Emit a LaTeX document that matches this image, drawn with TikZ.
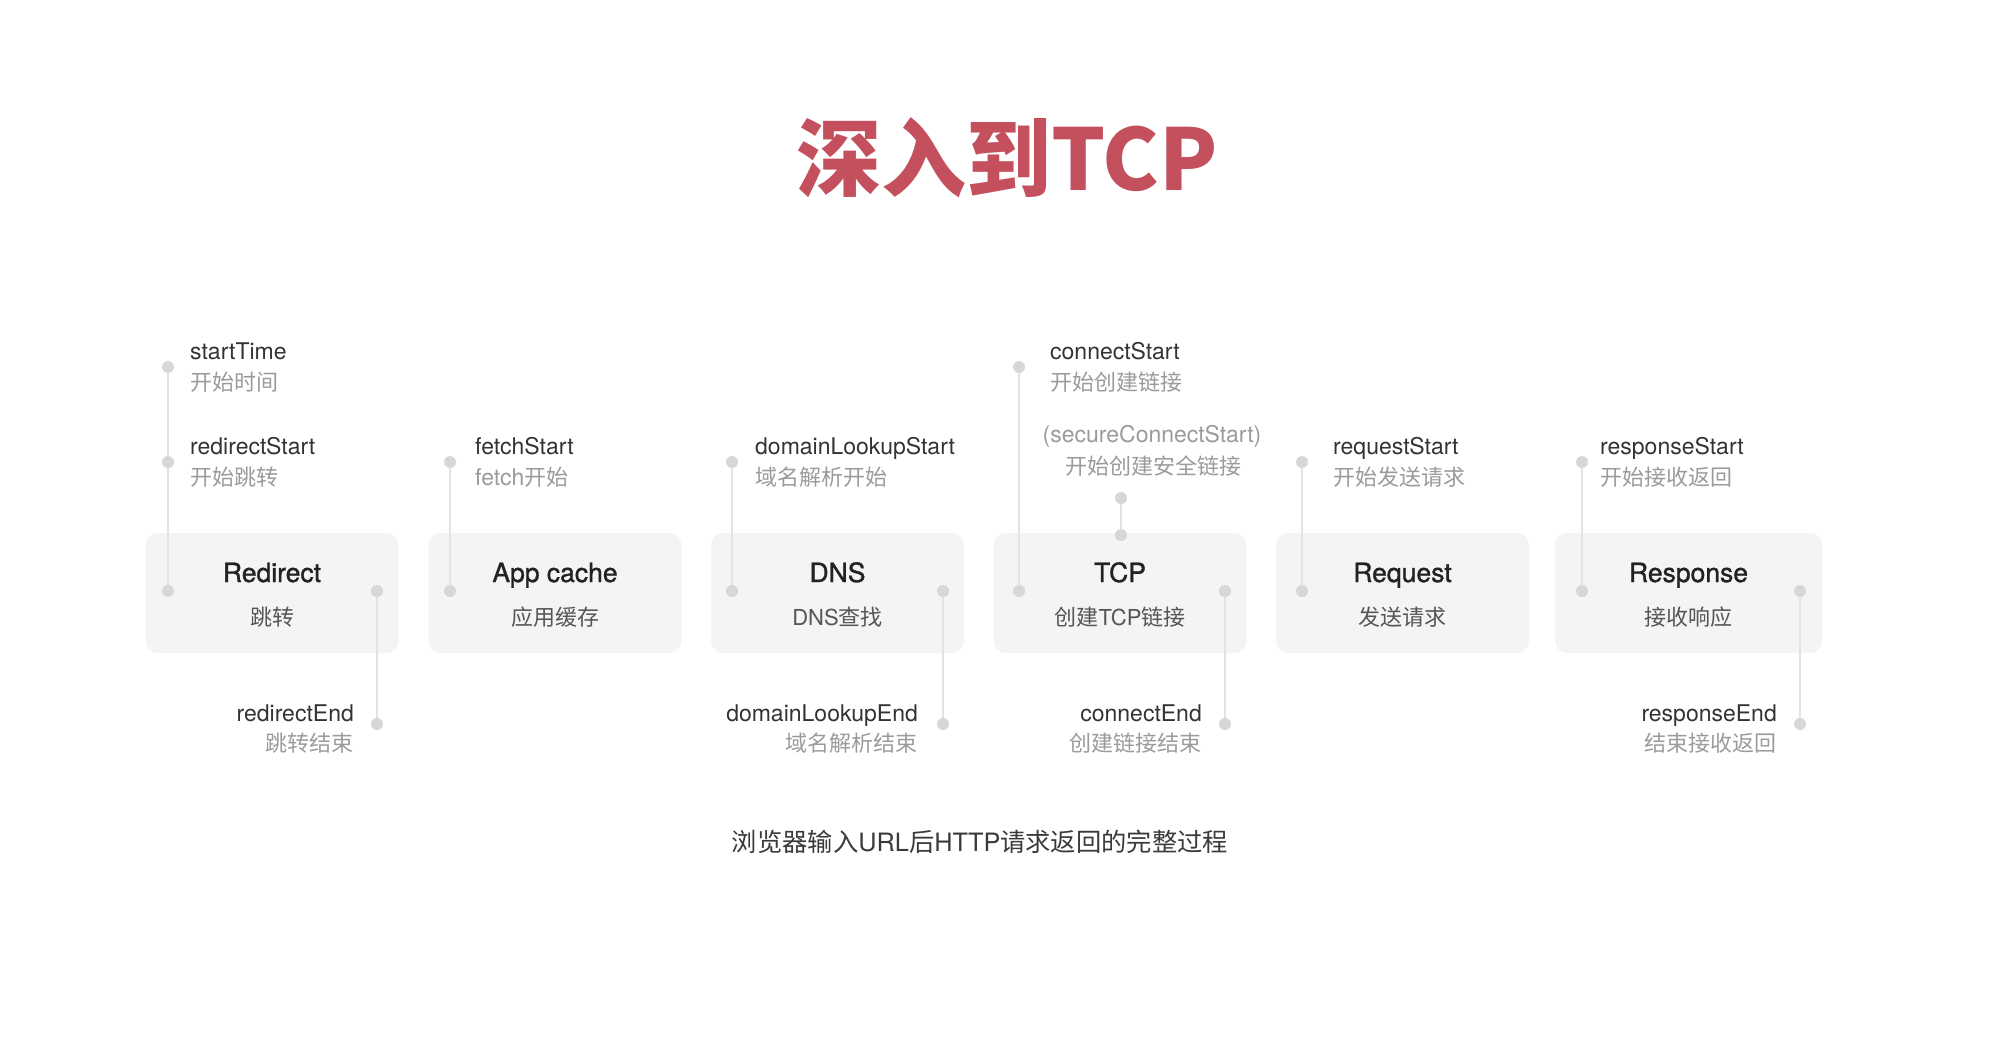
\documentclass[tikz,border=0pt]{standalone}
\usepackage{fontspec}
\setmainfont{TeX Gyre Heros}
\newfontfamily\cjk{Noto Sans CJK SC}
\newfontfamily\medium[FakeBold=1.2]{TeX Gyre Heros}
\newcommand\zh[1]{{\cjk\fontsize{22bp}{26bp}\selectfont #1}}
\newcommand\capzh[1]{{\cjk\fontsize{25.3bp}{30bp}\selectfont #1}}
\definecolor{titlered}{HTML}{C4505E}
\definecolor{boxfill}{HTML}{F4F4F6}
\definecolor{dotgray}{HTML}{D7D7DA}
\definecolor{linegray}{HTML}{E3E3E5}
\definecolor{labdark}{HTML}{333333}
\definecolor{labgray}{HTML}{9B9B9B}
\definecolor{boxtitle}{HTML}{222222}
\definecolor{boxsub}{HTML}{555555}
\definecolor{captext}{HTML}{3A3A3A}
\begin{document}
\begin{tikzpicture}[x=1bp,y=-1bp,
  lab/.style={anchor=base west, inner sep=0pt, text=labdark, font=\fontsize{23bp}{27bp}\selectfont},
  sub/.style={lab, text=labgray},
  rlab/.style={lab, anchor=base east},
  rsub/.style={sub, anchor=base east},
  stage/.style={rounded corners=12bp, fill=boxfill, minimum width=253bp, minimum height=120bp, inner sep=0pt},
  ttl/.style={anchor=base, inner sep=0pt, text=boxtitle, font=\medium\fontsize{26.5bp}{30bp}\selectfont},
  ttlsub/.style={anchor=base, inner sep=0pt, text=boxsub, font=\fontsize{22bp}{26bp}\selectfont},
  dot/.style={circle, fill=dotgray, minimum size=12bp, inner sep=0pt},
  conn/.style={draw=linegray, line width=2bp}]
\fill[white] (0,0) rectangle (2014,1062);
\useasboundingbox (0,0) rectangle (2014,1062);

% heading
\node[anchor=base, inner sep=0pt, text=titlered, font=\cjk\bfseries\fontsize{85bp}{92bp}\selectfont] (heading) at (1007,190) {深入到TCP};

% stage boxes
\node[stage] (redirect) at (272,593) {};
\node[stage] (appcache) at (555,593) {};
\node[stage] (dns) at (837.5,593) {};
\node[stage] (tcp) at (1120,593) {};
\node[stage] (request) at (1402.5,593) {};
\node[stage, minimum width=267bp] (response) at (1688.5,593) {};

% stage names
\node[ttl] (redirectT) at (272,582) {Redirect};
\node[ttlsub] (redirectS) at (272,625) {\zh{跳转}};
\node[ttl] (appcacheT) at (555,582) {App cache};
\node[ttlsub] (appcacheS) at (555,625) {\zh{应用缓存}};
\node[ttl] (dnsT) at (837.5,582) {DNS};
\node[ttlsub] (dnsS) at (837.5,625) {DNS\zh{查找}};
\node[ttl] (tcpT) at (1120,582) {TCP};
\node[ttlsub] (tcpS) at (1120,625) {\zh{创建}TCP\zh{链接}};
\node[ttl] (requestT) at (1402.5,582) {Request};
\node[ttlsub] (requestS) at (1402.5,625) {\zh{发送请求}};
\node[ttl] (responseT) at (1688.5,582) {Response};
\node[ttlsub] (responseS) at (1688.5,625) {\zh{接收响应}};

% timing points
\coordinate (st) at (168,367);
\coordinate (rs) at (168,462);
\coordinate (ri) at (168,591);
\coordinate (ro) at (377,591);
\coordinate (re) at (377,724);
\coordinate (fs) at (450,462);
\coordinate (fi) at (450,591);
\coordinate (ds) at (732,462);
\coordinate (di) at (732,591);
\coordinate (do) at (943,591);
\coordinate (de) at (943,724);
\coordinate (cs) at (1019,367);
\coordinate (ci) at (1019,591);
\coordinate (ss) at (1121,498);
\coordinate (sb) at (1121,535);
\coordinate (co) at (1225,591);
\coordinate (ce) at (1225,724);
\coordinate (qs) at (1302,462);
\coordinate (qi) at (1302,591);
\coordinate (ps) at (1582,462);
\coordinate (pi) at (1582,591);
\coordinate (po) at (1800,591);
\coordinate (pe) at (1800,724);

% connectors
\draw[conn] (st) -- (rs) -- (ri);
\draw[conn] (ro) -- (re);
\draw[conn] (fs) -- (fi);
\draw[conn] (ds) -- (di);
\draw[conn] (do) -- (de);
\draw[conn] (cs) -- (ci);
\draw[conn] (ss) -- (sb);
\draw[conn] (co) -- (ce);
\draw[conn] (qs) -- (qi);
\draw[conn] (ps) -- (pi);
\draw[conn] (po) -- (pe);

% dots
\foreach \p in {st,rs,ri,ro,re,fs,fi,ds,di,do,de,cs,ci,ss,sb,co,ce,qs,qi,ps,pi,po,pe}
  \node[dot] (dot-\p) at (\p) {};

% event labels
\node[lab] (stL) at (190,359) {startTime};
\node[sub] (stZ) at (190,390) {\zh{开始时间}};
\node[lab] (rsL) at (190,454) {redirectStart};
\node[sub] (rsZ) at (190,485) {\zh{开始跳转}};
\node[rlab] (reL) at (354,721) {redirectEnd};
\node[rsub] (reZ) at (354,751) {\zh{跳转结束}};

\node[lab] (fsL) at (475,454) {fetchStart};
\node[sub] (fsZ) at (475,485) {fetch\zh{开始}};

\node[lab] (dsL) at (755,454) {domainLookupStart};
\node[sub] (dsZ) at (755,485) {\zh{域名解析开始}};
\node[rlab] (deL) at (918,721) {domainLookupEnd};
\node[rsub] (deZ) at (918,751) {\zh{域名解析结束}};

\node[lab] (csL) at (1050,359) {connectStart};
\node[sub] (csZ) at (1050,390) {\zh{开始创建链接}};
\node[anchor=base, inner sep=0pt, text=labgray, font=\fontsize{23bp}{27bp}\selectfont] (ssL) at (1152,442) {(secureConnectStart)};
\node[anchor=base, inner sep=0pt, text=labgray] (ssZ) at (1153,474) {\zh{开始创建安全链接}};
\node[rlab] (ceL) at (1202,721) {connectEnd};
\node[rsub] (ceZ) at (1202,751) {\zh{创建链接结束}};

\node[lab] (qsL) at (1333,454) {requestStart};
\node[sub] (qsZ) at (1333,485) {\zh{开始发送请求}};

\node[lab] (psL) at (1600,454) {responseStart};
\node[sub] (psZ) at (1600,485) {\zh{开始接收返回}};
\node[rlab] (peL) at (1777,721) {responseEnd};
\node[rsub] (peZ) at (1777,751) {\zh{结束接收返回}};

% caption
\node[anchor=base, inner sep=0pt, text=captext, font=\fontsize{25.3bp}{30bp}\selectfont] (caption) at (980,851)
  {\capzh{浏览器输入}URL\capzh{后}HTTP\capzh{请求返回的完整过程}};
\end{tikzpicture}
\end{document}
